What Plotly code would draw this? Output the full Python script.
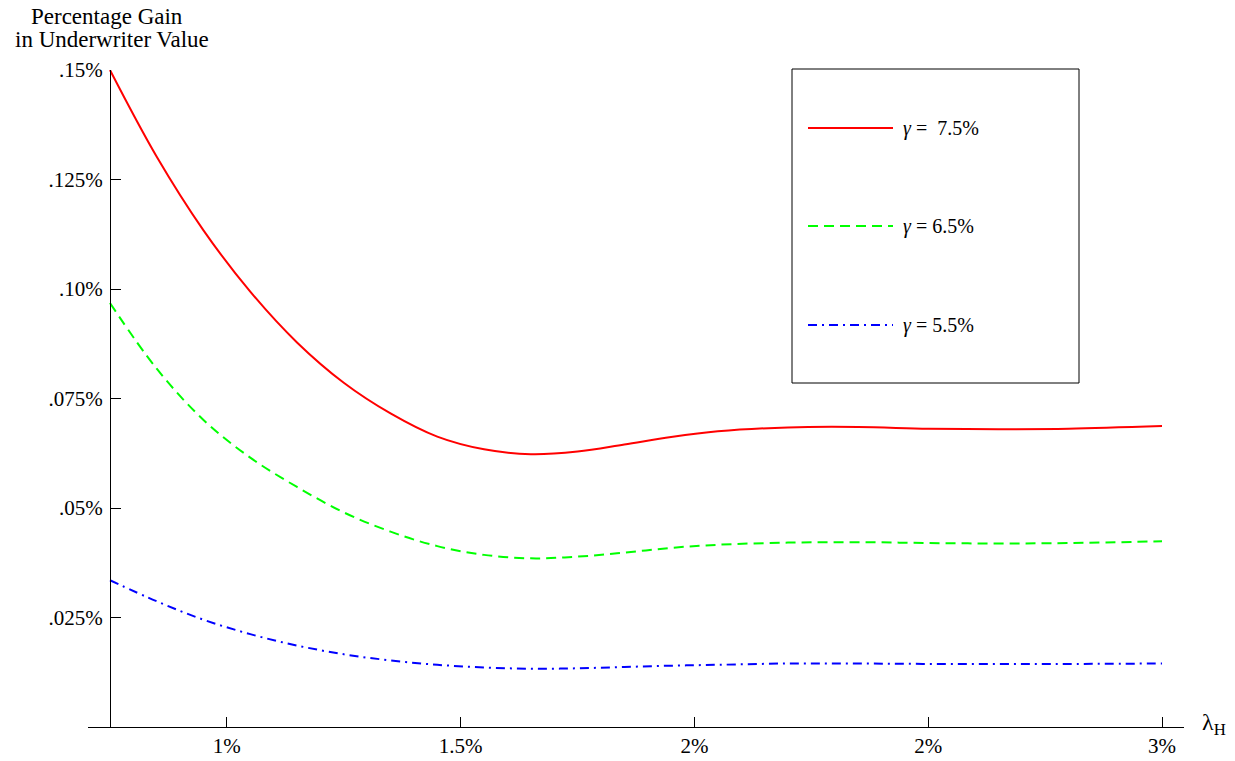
import plotly.graph_objects as go

# ---- data ----
lambda_h = [0.75, 0.85, 0.95, 1.05, 1.15, 1.25, 1.35, 1.45, 1.55, 1.65,
            1.75, 1.85, 1.95, 2.05, 2.2, 2.35, 2.5, 2.65, 2.8, 3.0]
gain_75 = [0.150, 0.1302, 0.1134, 0.0994, 0.0878, 0.0786, 0.0716, 0.0663, 0.0634, 0.0623,
           0.0629, 0.0645, 0.0662, 0.0675, 0.0684, 0.0685, 0.0681, 0.0680, 0.0681, 0.0687]
gain_65 = [0.0968, 0.0818, 0.0701, 0.0615, 0.0548, 0.0490, 0.0446, 0.0413, 0.0393, 0.0385,
           0.0389, 0.0398, 0.0409, 0.0416, 0.0421, 0.0422, 0.0420, 0.0419, 0.0420, 0.0424]
gain_55 = [0.0335, 0.0287, 0.0245, 0.0212, 0.0186, 0.0166, 0.0152, 0.0142, 0.0136, 0.0133,
           0.0134, 0.0137, 0.0140, 0.0142, 0.0145, 0.0145, 0.0144, 0.0144, 0.0144, 0.0145]
series_names = ["γ = 7.5%", "γ = 6.5%", "γ = 5.5%"]
legend_labels = ["<i>γ</i> =\u00a0\u00a07.5%", "<i>γ</i> = 6.5%", "<i>γ</i> = 5.5%"]

x_tickvals = [1.0, 1.5, 2.0, 2.5, 3.0]
x_ticktext = ["1%", "1.5%", "2%", "2%", "3%"]
y_tickvals = [0.025, 0.05, 0.075, 0.10, 0.125, 0.15]
y_ticktext = [".025%", ".05%", ".075%", ".10%", ".125%", ".15%"]

# ---- styling ----
FONT = "Liberation Serif"
OFF = 8                      # page body margin in the browser
W, H = 1235 - OFF, 761 - OFF
ML, MR, MT, MB = 80, 51, 62, 34
PW, PH = W - ML - MR, H - MT - MB
X_RANGE = [0.703, 3.047]
Y_RANGE = [0.0, 0.15]

def px(xs):
    """screen x pixel -> paper fraction"""
    return (xs - OFF - ML) / PW

def py(ys):
    """screen y pixel -> paper fraction"""
    return (H - MB - (ys - OFF)) / PH

colors = ["#ff0000", "#00ff00", "#0000ff"]
dashes = ["solid", "10px,6px", "9px,5px,2px,5px"]

fig = go.Figure()
for vals, name, c, d in zip([gain_75, gain_65, gain_55], series_names, colors, dashes):
    fig.add_trace(go.Scatter(
        x=lambda_h, y=vals, mode="lines", name=name,
        line=dict(color=c, width=2, dash=d, shape="spline", smoothing=1.0),
        showlegend=False, cliponaxis=False,
    ))

fig.update_layout(
    width=W, height=H,
    margin=dict(l=ML, r=MR, t=MT, b=MB, autoexpand=False),
    paper_bgcolor="white", plot_bgcolor="white",
    font=dict(family=FONT, size=21, color="black"),
    xaxis=dict(
        range=X_RANGE, showgrid=False, zeroline=False,
        showline=True, linecolor="black", linewidth=1,
        ticks="inside", ticklen=10, tickcolor="black", tickwidth=1,
        tickvals=x_tickvals, ticktext=x_ticktext,
        tickfont=dict(family=FONT, size=21),
        automargin=False,
    ),
    yaxis=dict(
        range=Y_RANGE, showgrid=False, zeroline=False,
        anchor="free", position=(0.75 - X_RANGE[0]) / (X_RANGE[1] - X_RANGE[0]),
        showline=True, linecolor="black", linewidth=1,
        ticks="inside", ticklen=10, tickcolor="black", tickwidth=1,
        tickvals=y_tickvals, ticktext=y_ticktext,
        tickfont=dict(family=FONT, size=21),
        ticklabelstandoff=3,
        automargin=False,
    ),
)

# legend box drawn as a framed panel
shapes = [dict(type="rect", xref="paper", yref="paper",
               x0=px(792), x1=px(1079), y0=py(383), y1=py(69),
               line=dict(color="black", width=1), fillcolor="white", layer="above")]
annotations = []
for i, (lab, c, d) in enumerate(zip(legend_labels, colors, dashes)):
    yy = [128, 226, 325][i]
    shapes.append(dict(type="line", xref="paper", yref="paper",
                       x0=px(808), x1=px(893), y0=py(yy), y1=py(yy),
                       line=dict(color=c, width=2, dash=d), layer="above"))
    annotations.append(dict(xref="paper", yref="paper", x=px(901), y=py(yy),
                            text=lab, showarrow=False, xanchor="left", yanchor="middle",
                            font=dict(family=FONT, size=20, color="black")))

# axis titles
annotations.append(dict(xref="paper", yref="paper", x=px(107), y=py(17),
                        text="Percentage Gain", showarrow=False,
                        xanchor="center", yanchor="middle",
                        font=dict(family=FONT, size=23)))
annotations.append(dict(xref="paper", yref="paper", x=px(112), y=py(40),
                        text="in Underwriter Value", showarrow=False,
                        xanchor="center", yanchor="middle",
                        font=dict(family=FONT, size=23)))
annotations.append(dict(xref="paper", yref="paper", x=px(1200), y=py(724),
                        text="λ<sub>H</sub>", showarrow=False,
                        xanchor="left", yanchor="middle",
                        font=dict(family=FONT, size=24)))

fig.update_layout(shapes=shapes, annotations=annotations)
fig.write_html("out.html")
